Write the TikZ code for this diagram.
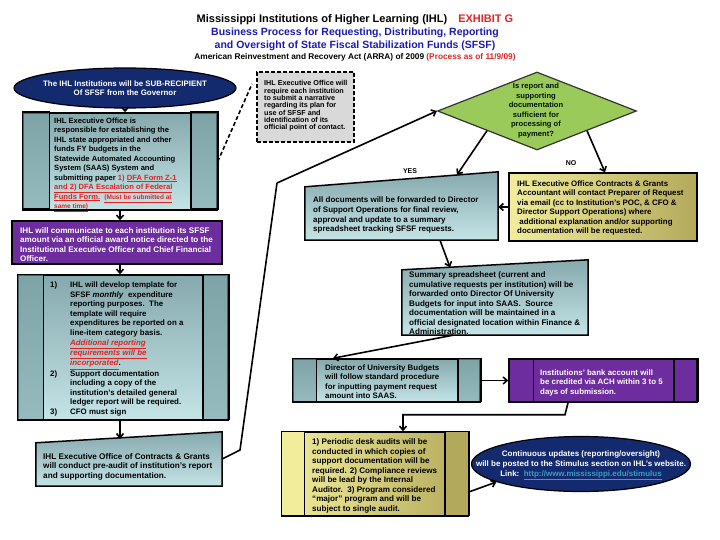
\documentclass[tikz,border=0pt]{standalone}
\usepackage{fontspec}
\setmainfont{Liberation Sans}
\usetikzlibrary{shapes.geometric,calc,arrows.meta}
\definecolor{exred}{HTML}{E32222}
\definecolor{tblue}{HTML}{1B1BB4}
\definecolor{ihlnavy}{HTML}{132A6E}
\definecolor{ihlpurple}{HTML}{6E2D9E}
\definecolor{tealtop}{HTML}{86A9AD}
\definecolor{tealbot}{HTML}{C4E4E6}
\definecolor{tealside}{HTML}{78A0A4}
\definecolor{okgreen}{HTML}{9ACB5A}
\definecolor{ylight}{HTML}{F1ED9B}
\definecolor{yolive}{HTML}{B3A95B}
\definecolor{notegray}{HTML}{D9D9D9}
\definecolor{linkcyan}{HTML}{3B9DC4}
\newcommand{\ulred}[1]{\textcolor{exred}{\underline{#1}}}
\begin{document}
\begin{tikzpicture}[x=1pt,y=-1pt,
  txt/.style={font=\fontsize{7.9}{9.5}\selectfont\bfseries,align=left,anchor=north west,inner sep=0pt},
  flow/.style={-{Straight Barb[length=4pt,width=7pt]},line width=1.6pt},
  frame/.style={draw=black,line width=1.5pt},
  tealbox/.style={frame,top color=tealtop,bottom color=tealbot,inner sep=0pt},
  yelbox/.style={frame,left color=ylight,right color=yolive,inner sep=0pt},
  navyell/.style={ellipse,draw=black,line width=1.2pt,fill=ihlnavy,inner sep=0pt}]
\useasboundingbox (0,0) rectangle (720,540);
% heading
\node[font=\fontsize{11}{13}\selectfont\bfseries] (head) at (355,20) {Mississippi Institutions of Higher Learning (IHL)\quad\textcolor{exred}{EXHIBIT G}};
\node[font=\fontsize{10.5}{12.5}\selectfont\bfseries,text=tblue,align=center] (sub) at (355,39.5) {Business Process for Requesting, Distributing, Reporting\\and Oversight of State Fiscal Stabilization Funds (SFSF)};
\node[font=\fontsize{8.3}{10}\selectfont\bfseries] (arra) at (355,57) {American Reinvestment and Recovery Act (ARRA) of 2009 \textcolor{exred}{(Process as of 11/9/09)}};
% left column
\node[navyell,minimum width=222,minimum height=40] (ell1) at (125,88) {};
\node[txt,anchor=center,align=center,text=white,font=\fontsize{7.9}{9.5}\selectfont\bfseries] (ell1txt) at (ell1) {The IHL Institutions will be SUB-RECIPIENT\\Of SFSF from the Governor};
\node[tealbox,minimum width=194,minimum height=97] (box1) at (120,161.5) {};
\path[frame,fill=tealside,fill opacity=.6] (box1.north west) rectangle ++(27,97) (box1.north east) rectangle ++(-27,97);
\node[txt,font=\fontsize{7.6}{9.5}\selectfont\bfseries] (box1txt) at (54,117.5) {IHL Executive Office is\\responsible for establishing the\\IHL state appropriated and other\\funds FY budgets in the\\Statewide Automated Accounting\\System (SAAS) System and\\submitting paper \textcolor{exred}{1)} \ulred{DFA Form Z-1}\\\ulred{and 2) DFA Escalation of Federal}\\\ulred{Funds Form.}\ \ {\fontsize{6.5}{9.5}\selectfont\ulred{(Must be submitted at}}\\{\fontsize{6.5}{9.5}\selectfont\ulred{same time)}}};
\node[frame,fill=ihlpurple,minimum width=210,minimum height=43,inner sep=0pt] (comm) at (117,242.5) {};
\node[txt,text=white,font=\fontsize{8.1}{9.5}\selectfont\bfseries] (commtxt) at (20,227) {IHL will communicate to each institution its SFSF\\amount via an official award notice directed to the\\Institutional Executive Officer and Chief Financial\\Officer.};
\node[tealbox,minimum width=210,minimum height=145] (list) at (123,347.5) {};
\path[frame,fill=tealside,fill opacity=.6] (list.north west) rectangle ++(26,145) (list.north east) rectangle ++(-26,145);
\node[txt,font=\fontsize{7.9}{9.6}\selectfont\bfseries] (listtxt) at (50,280.5) {\begin{tabular}{@{}p{20pt}@{}l@{}}
1) & IHL will develop template for\\
 & SFSF \textit{monthly}\ \ expenditure\\
 & reporting purposes.\ \ The\\
 & template will require\\
 & expenditures be reported on a\\
 & line-item category basis.\\
 & \ulred{\textit{Additional reporting}}\\
 & \ulred{\textit{requirements will be}}\\
 & \ulred{\textit{incorporated}}.\\
2) & Support documentation\\
 & including a copy of the\\
 & institution's detailed general\\
 & ledger report will be required.\\
3) & CFO must sign
\end{tabular}};
\node[inner sep=0pt,minimum width=186,minimum height=54] (pre) at (129,459) {};
\path[tealbox] (pre.south west) -- ([yshift=-11pt]pre.north west) -- (pre.north east) -- (pre.south east) -- cycle;
\node[txt,font=\fontsize{8.2}{9.5}\selectfont\bfseries] (pretxt) at (43,453) {IHL Executive Office of Contracts \& Grants\\will conduct pre-audit of institution's report\\and supporting documentation.};
% note and decision
\node[draw=black,line width=1.6pt,dash pattern=on 4pt off 2pt,fill=notegray,minimum width=97,minimum height=70,inner sep=0pt] (note) at (305.5,107) {};
\node[txt,font=\fontsize{7.2}{7.3}\selectfont\bfseries] (notetxt) at (264,80.5) {IHL Executive Office will\\require each institution\\to submit a narrative\\regarding its plan for\\use of SFSF and\\identification of its\\official point of contact.};
\coordinate (notein) at (252,84);
\node[diamond,draw=black!80,line width=1.2pt,fill=okgreen,aspect=2.55,minimum width=199,minimum height=78,inner sep=0pt] (check) at (537,111) {};
\node[txt,anchor=center,align=center,text=black!80!green!40!black,font=\fontsize{7.6}{9.6}\selectfont\bfseries] (checktxt) at (536,110.5) {Is report and\\supporting\\documentation\\sufficient for\\processing of\\payment?};
\node[font=\fontsize{7}{8}\selectfont\bfseries] (yes) at (410,171) {YES};
\node[font=\fontsize{7}{8}\selectfont\bfseries] (no) at (571,163) {NO};
% right column
\node[inner sep=0pt,minimum width=193,minimum height=68] (docs) at (401.5,206) {};
\path[tealbox] (docs.south west) -- ([yshift=-15pt]docs.north west) -- (docs.north east) -- (docs.south east) -- cycle;
\node[txt,font=\fontsize{8}{9.8}\selectfont\bfseries] (docstxt) at (313,196.5) {All documents will be forwarded to Director\\of Support Operations for final review,\\approval and update to a summary\\spreadsheet tracking SFSF requests.};
\node[yelbox,minimum width=188,minimum height=68] (nobox) at (603,207) {};
\node[txt] (noboxtxt) at (517,180.5) {IHL Executive Office Contracts \& Grants\\Accountant will contact Preparer of Request\\via email (cc to Institution's POC, \& CFO \&\\Director Support Operations) where\\\ additional explanation and/or supporting\\documentation will be requested.};
\node[inner sep=0pt,minimum width=186,minimum height=75] (sum) at (495,297.5) {};
\path[tealbox] (sum.south west) -- ([yshift=-10pt]sum.north west) -- (sum.north east) -- (sum.south east) -- cycle;
\node[txt,font=\fontsize{8.1}{9.5}\selectfont\bfseries] (sumtxt) at (409,271.5) {Summary spreadsheet (current and\\cumulative requests per institution) will be\\forwarded onto Director Of University\\Budgets for input into SAAS.\ \ Source\\documentation will be maintained in a\\official designated location within Finance \&\\Administration.};
\node[tealbox,minimum width=187,minimum height=43] (dir) at (386.5,380.5) {};
\path[frame,fill=tealside,fill opacity=.6] (dir.north west) rectangle ++(24,43) (dir.north east) rectangle ++(-23,43);
\node[txt] (dirtxt) at (325,364.5) {Director of University Budgets\\will follow standard procedure\\for inputting payment request\\amount into SAAS.};
\node[frame,fill=ihlpurple,minimum width=188,minimum height=43,inner sep=0pt] (bank) at (603,380.5) {};
\path[frame] (bank.north west) rectangle ++(25,43) (bank.north east) rectangle ++(-24,43);
\node[txt,text=white] (banktxt) at (540,369.5) {Institutions' bank account will\\be credited via ACH within 3 to 5\\days of submission.};
\node[yelbox,minimum width=186,minimum height=84] (audit) at (375,474) {};
\path[frame,fill=ylight] (audit.north west) rectangle ++(23,84);
\path[frame,fill=yolive] (audit.north east) rectangle ++(-24,84);
\node[txt,font=\fontsize{8.1}{9.5}\selectfont\bfseries] (audittxt) at (312,438.5) {1) Periodic desk audits will be\\conducted in which copies of\\support documentation will be\\required. 2) Compliance reviews\\will be lead by the Internal\\Auditor.\ \ 3) Program considered\\``major'' program and will be\\subject to single audit.};
\node[navyell,minimum width=219,minimum height=55] (upd) at (581,464) {};
\node[txt,anchor=center,align=center,text=white,font=\fontsize{8}{10}\selectfont\bfseries] (updtxt) at (581,465) {Continuous updates (reporting/oversight)\\will be posted to the Stimulus section on IHL's website.\\Link:\ \ \textcolor{linkcyan}{\underline{http://www.mississippi.edu/stimulus}}};
% connectors
\coordinate (k1) at (240,450);
\coordinate (k2) at (277,183);
\draw[flow] (ell1.south) -- (ell1.south |- box1.north);
\draw[flow] (box1.south) -- (box1.south |- comm.north);
\draw[flow] (box1.south |- comm.south) -- (box1.south |- list.north);
\draw[flow] (box1.south |- list.south) -- ++(0,18);
\draw[line width=1.6pt] (pre.east) -- (k1) -- (k2);
\draw[flow] (k2) -- (check.west);
\draw[line width=1.6pt,dash pattern=on 4pt off 2.5pt] (box1.east) -- (notein);
\draw[flow] (check.south west) -- ([xshift=55.5pt,yshift=-3pt]docs.north);
\draw[flow] (check.south east) -- ([xshift=2pt]nobox.north);
\draw[flow] (nobox.west) -- (nobox.west -| docs.east);
\draw[flow] ([xshift=38.5pt]docs.south) -- ([xshift=-45pt,yshift=-7.5pt]sum.north);
\draw[flow] ([xshift=-42pt]sum.south) -- ([xshift=-53.5pt]dir.north);
\draw[flow] (dir.east) -- (bank.west);
\draw[flow] ([xshift=-35pt]bank.south) -- ++(-3,12) -| ([xshift=28pt]audit.north);
\draw[flow] ([yshift=-18pt]audit.east) -- (upd.192);
\end{tikzpicture}
\end{document}
